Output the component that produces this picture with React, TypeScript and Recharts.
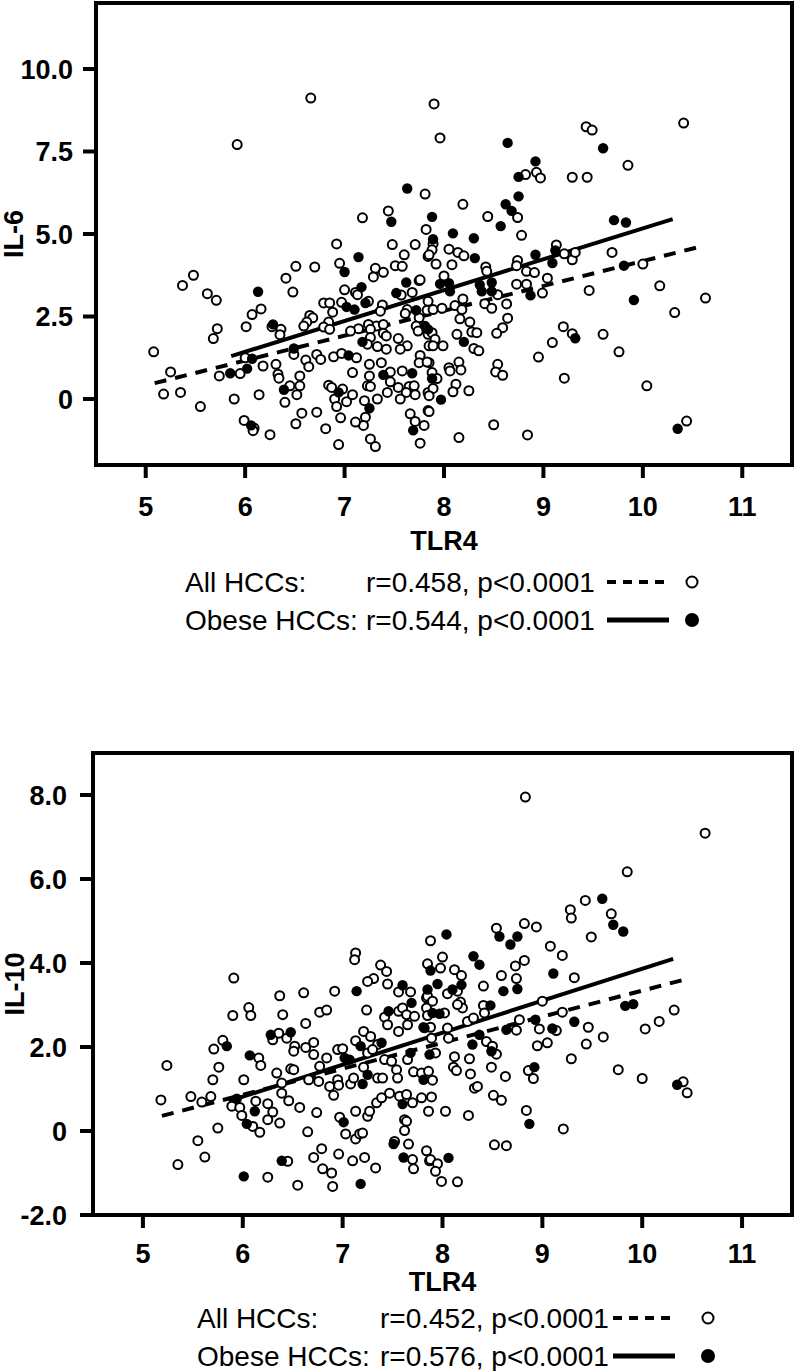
import React from 'react';
import { ScatterChart, Scatter, XAxis, YAxis, ReferenceArea, ReferenceLine } from 'recharts';

const FONT = "'Liberation Sans', Arial, Helvetica, sans-serif";

// x axis (TLR4) shared by both panels
const xTicks = [5, 6, 7, 8, 9, 10, 11];
const xDomain = [4.5, 11.5];

// IL-6 panel
const il6Ticks = [0, 2.5, 5, 7.5, 10];
const il6Domain = [-2, 12];
const il6Stats = ['r=0.458, p<0.0001', 'r=0.544, p<0.0001'];
const il6AllFit = [[5.09, 0.48], [10.61, 4.64]];
const il6ObeseFit = [[5.86, 1.3], [10.3, 5.45]];

const il6OpenPts = [
  [6.66, 9.12], [5.92, 7.71], [7.81, 6.21], [7.44, 5.7], [7.18, 5.49], [7.82, 5.14],
  [7.9, 8.94], [7.96, 7.91], [9.43, 8.25], [9.49, 8.15], [10.41, 8.36], [8.82, 6.8], [8.93, 6.87],
  [8.97, 6.7], [9.29, 6.72], [9.44, 6.72], [9.85, 7.08], [8.19, 5.9], [8.74, 5.5], [8.44, 5.53], [8.78, 4.96],
  [6.92, 4.7], [7.48, 4.68], [7.71, 4.68], [7.6, 4.37], [7.84, 4.32], [6.95, 4.11], [7.51, 4.04], [7.58, 4.02],
  [7.31, 3.96], [7.39, 3.84], [7.29, 3.7], [6.51, 4.02], [6.7, 4.0], [6.41, 3.66], [5.48, 3.75], [5.37, 3.44],
  [6.48, 3.24], [5.62, 3.19], [5.71, 2.99], [7.75, 3.59], [7.0, 3.31], [7.11, 3.23], [7.13, 3.16], [7.57, 3.15],
  [7.68, 3.23], [6.16, 2.73], [6.07, 2.56], [6.01, 2.19], [5.72, 2.13], [5.68, 1.83], [6.79, 2.91], [6.85, 2.91],
  [6.88, 2.63], [6.97, 2.93], [7.24, 2.96], [7.38, 2.85], [7.36, 2.66], [6.65, 2.53], [6.68, 2.46], [6.62, 2.33],
  [6.59, 2.21], [6.84, 2.33], [6.79, 2.18], [6.85, 2.11], [6.27, 2.19], [6.36, 2.11], [6.35, 1.95], [7.63, 2.71],
  [7.61, 2.59], [7.83, 2.69], [7.75, 2.46], [7.72, 2.21], [7.32, 2.21], [7.24, 2.26], [7.39, 2.26], [7.14, 2.13],
  [7.06, 2.06], [7.26, 2.11], [7.39, 1.99], [7.42, 1.91], [7.74, 2.06], [7.84, 1.96], [7.26, 1.86], [7.23, 1.66],
  [7.54, 1.83], [7.63, 1.61], [7.56, 1.51], [7.33, 1.59], [7.42, 1.51], [7.85, 1.61], [6.49, 1.35], [6.72, 1.35],
  [6.76, 1.2], [6.61, 1.18], [6.64, 0.98], [6.89, 1.28], [6.97, 1.38], [7.12, 1.25], [7.76, 1.32], [7.75, 1.1],
  [7.25, 1.05], [7.37, 1.1], [7.85, 1.1], [6.0, 1.25], [6.18, 1.0], [6.31, 1.05], [5.95, 0.77], [5.74, 0.7],
  [5.08, 1.43], [5.25, 0.82], [5.18, 0.15], [5.35, 0.2], [5.55, -0.23], [5.89, 0.0], [6.14, 0.13], [6.33, 0.75],
  [6.34, 0.63], [6.55, 0.7], [6.45, 0.4], [6.55, 0.4], [6.52, 0.13], [6.4, -0.1], [6.84, 0.42], [6.87, 0.35],
  [6.98, 0.3], [6.9, 0.0], [6.92, -0.23], [7.02, -0.08], [7.08, 0.13], [7.08, 0.8], [7.25, 0.7], [7.46, 0.82],
  [7.58, 0.85], [7.46, 0.52], [7.54, 0.35], [7.65, 0.38], [7.7, 0.4], [7.62, 0.2], [7.71, 0.13], [7.23, 0.4],
  [7.26, 0.38], [7.43, 0.2], [7.33, 0.0], [7.56, 0.0], [7.2, -0.05], [7.84, 0.2], [7.84, -0.35], [7.21, -0.55],
  [7.19, -0.8], [7.11, -0.7], [6.96, -0.57], [6.72, -0.4], [6.57, -0.43], [6.51, -0.75], [6.81, -0.9], [5.99, -0.65],
  [6.09, -0.88], [6.08, -0.96], [6.25, -1.08], [6.94, -1.38], [7.26, -1.21], [7.31, -1.44], [7.66, -0.45],
  [7.71, -0.68], [7.8, -0.8], [7.76, -1.34],
  [7.89, 4.7], [7.88, 4.52], [7.85, 4.37], [8.05, 4.54], [8.14, 4.44], [8.2, 4.34], [7.92, 4.09], [8.08, 4.07],
  [8.42, 4.0], [8.43, 3.87], [7.76, 3.61], [8.0, 3.73], [8.54, 3.16], [8.74, 4.2], [8.73, 4.04], [8.83, 3.87],
  [8.91, 3.83], [9.13, 4.67], [9.21, 4.4], [9.29, 4.22], [9.32, 4.44], [9.04, 3.66], [8.73, 3.48], [8.83, 3.48],
  [8.99, 3.21], [9.46, 3.29], [9.69, 4.44], [10.0, 4.09], [10.17, 3.43], [10.63, 3.06], [10.32, 2.62], [7.84, 2.96],
  [7.89, 2.71], [7.98, 2.75], [8.11, 2.83], [8.19, 3.03], [8.18, 2.71], [8.41, 2.89], [8.48, 2.75], [8.63, 2.88],
  [8.64, 2.45], [8.59, 2.16], [8.53, 1.99], [8.16, 2.43], [8.26, 2.33], [8.28, 2.03], [8.33, 2.01], [8.13, 1.96],
  [7.88, 2.01], [7.91, 1.81], [7.89, 1.61], [7.99, 1.61], [8.3, 1.53], [8.35, 1.46], [9.2, 2.19], [9.29, 1.98],
  [9.09, 1.71], [8.95, 1.27], [9.6, 1.96], [9.76, 1.43], [9.21, 0.63], [7.83, 1.12], [8.15, 1.12], [8.05, 0.95],
  [8.06, 0.85], [8.17, 0.88], [7.88, 0.8], [7.93, 0.62], [8.54, 1.05], [8.52, 0.82], [8.59, 0.72], [8.12, 0.45],
  [7.89, 0.32], [8.09, 0.22], [8.25, 0.25], [7.85, 0.1], [7.85, -0.38], [8.5, -0.78], [8.15, -1.17], [8.84, -1.09],
  [10.04, 0.4], [10.44, -0.67],
];

const il6ObesePts = [
  [7.63, 6.38], [7.47, 5.37], [8.64, 7.76], [9.6, 7.6], [8.92, 7.2], [8.75, 6.73], [7.88, 5.52], [8.75, 6.14],
  [8.62, 5.9], [8.68, 5.7], [8.57, 5.24], [8.09, 5.02], [8.3, 4.87], [9.71, 5.42], [9.83, 5.35], [7.89, 4.84],
  [7.14, 4.3], [7.0, 3.85], [6.13, 3.25], [7.62, 3.53], [7.17, 3.39], [7.52, 3.21], [7.02, 2.79], [7.1, 2.71],
  [7.21, 2.91], [6.28, 2.26], [7.72, 2.69], [7.81, 2.21], [7.18, 1.73], [6.49, 1.53], [7.04, 1.32], [6.07, 1.22],
  [6.02, 0.92], [5.85, 0.78], [6.39, 0.28], [6.94, 0.2], [7.39, 0.73], [7.68, 0.78], [7.25, -0.28], [6.06, -0.8],
  [7.69, -0.95],
  [8.31, 4.27], [7.96, 3.49], [8.05, 3.51], [8.06, 3.26], [8.36, 3.46], [8.38, 3.26], [8.48, 3.53], [8.48, 3.26],
  [8.92, 4.37], [9.12, 4.5], [9.09, 4.12], [8.87, 3.14], [9.81, 4.04], [9.91, 3.0], [8.2, 1.73], [7.84, 2.11],
  [9.32, 1.84], [7.88, 0.62], [7.97, -0.02], [10.35, -0.9],
];

// IL-10 panel
const il10Ticks = [-2, 0, 2, 4, 6, 8];
const il10Domain = [-2, 9];
const il10Stats = ['r=0.452, p<0.0001', 'r=0.576, p<0.0001'];
const il10AllFit = [[5.19, 0.36], [10.48, 3.64]];
const il10ObeseFit = [[5.86, 0.71], [10.31, 4.1]];

const il10OpenPts = [
  [5.91, 3.64], [7.13, 4.24], [7.12, 4.08], [7.38, 3.95], [7.44, 3.8], [7.31, 3.63], [7.25, 3.56], [7.45, 3.5],
  [7.88, 4.53], [7.85, 3.98],
  [8.83, 7.95], [10.63, 7.09], [9.85, 6.17], [9.43, 5.49], [9.28, 5.27], [9.29, 5.07], [9.69, 5.17], [9.49, 4.62],
  [8.82, 4.94], [8.94, 4.86], [8.54, 4.83], [9.08, 4.4], [9.2, 4.18], [9.32, 3.65], [8.82, 4.06], [8.73, 3.93],
  [8.59, 3.7], [8.74, 3.63], [8.0, 4.14], [7.98, 3.88], [8.12, 3.84], [8.19, 3.7], [8.41, 3.45],
  [6.37, 3.22], [6.61, 3.29], [6.92, 3.33], [7.56, 3.31], [7.68, 3.31], [7.84, 3.17], [6.06, 2.94], [6.08, 2.75],
  [5.9, 2.75], [6.4, 2.77], [6.77, 2.83], [6.84, 2.88], [7.24, 2.88], [7.42, 2.71], [7.45, 2.53], [7.56, 2.85],
  [7.6, 2.93], [7.64, 2.77], [7.72, 2.73], [7.65, 2.53], [7.56, 2.37], [7.84, 2.93], [7.85, 2.75], [6.63, 2.56],
  [6.36, 2.33], [6.3, 2.17], [6.44, 2.21], [6.52, 2.02], [6.51, 1.9], [6.63, 1.99], [6.71, 2.11], [6.71, 1.82],
  [6.77, 1.54], [6.84, 1.74], [6.95, 1.94], [7.0, 1.96], [7.13, 2.15], [7.21, 2.37], [7.28, 2.25], [7.35, 2.06],
  [7.25, 1.86], [7.3, 1.94], [7.42, 1.7], [7.49, 1.66], [7.21, 1.52], [7.35, 1.26], [7.4, 1.26], [7.54, 1.46],
  [7.55, 1.26], [7.65, 1.7], [7.71, 1.41], [7.79, 1.38], [7.86, 1.42], [6.16, 1.74], [6.18, 1.56], [6.48, 1.48],
  [6.51, 1.46], [6.34, 1.38], [6.66, 1.22], [6.76, 1.18], [6.87, 1.06], [6.95, 1.22], [6.96, 1.09], [7.08, 1.12],
  [7.11, 1.26], [6.91, 0.85], [6.39, 1.14], [6.39, 0.9], [6.46, 0.72], [6.01, 1.22], [5.71, 1.95], [5.8, 2.16],
  [5.76, 1.52], [5.7, 1.22], [5.24, 1.56], [5.18, 0.74], [5.48, 0.82], [5.59, 0.69], [5.68, 0.82], [5.89, 0.59],
  [5.97, 0.56], [5.99, 0.37], [6.13, 0.71], [6.25, 0.65], [6.3, 0.45], [6.25, 0.27], [6.37, 0.19], [6.1, 0.11],
  [6.17, -0.03], [5.75, 0.07], [5.55, -0.23], [5.62, -0.62], [5.35, -0.8], [6.25, -1.1], [6.45, -0.72],
  [6.55, -1.29], [6.57, 0.56], [6.74, 0.44], [6.65, -0.02], [6.97, 0.33], [7.03, -0.07], [7.13, -0.19],
  [7.17, -0.07], [7.2, -0.05], [7.13, 0.47], [7.25, 0.35], [7.27, 0.47], [7.34, 0.67], [7.39, 0.79], [7.47, 0.9],
  [7.57, 0.83], [7.64, 0.87], [7.7, 0.67], [7.79, 0.79], [7.62, 0.27], [7.64, 0.23], [7.62, 0.01], [7.86, 0.47],
  [6.79, -0.42], [6.71, -0.63], [6.96, -0.55], [7.1, -0.71], [7.22, -0.63], [7.33, -0.88], [6.8, -0.9],
  [6.89, -1.0], [6.9, -1.32], [7.52, -0.25], [7.66, -0.31], [7.7, -0.68], [7.71, -0.9], [7.84, -0.47], [7.87, -0.71],
  [7.85, 3.21], [7.9, 3.09], [8.05, 3.27], [8.15, 3.33], [8.18, 3.07], [8.2, 2.93], [8.15, 3.01], [8.41, 2.99],
  [8.42, 2.81], [9.0, 3.09], [8.02, 2.81], [8.25, 2.61], [8.31, 2.69], [8.05, 2.45], [7.88, 2.47], [7.89, 2.21],
  [8.06, 2.21], [8.44, 2.13], [8.5, 2.02], [8.54, 1.83], [7.93, 1.86], [8.12, 1.77], [8.27, 1.72], [8.49, 1.52],
  [8.28, 1.36], [8.11, 1.52], [8.14, 1.44], [7.9, 1.21], [7.89, 0.81], [8.32, 1.02], [8.35, 1.06], [8.51, 0.85],
  [8.59, 0.73], [8.63, 1.3], [8.03, 0.47], [8.26, 0.37], [8.77, 2.65], [8.74, 2.4], [8.97, 2.43], [9.14, 2.39],
  [9.2, 2.83], [9.46, 2.47], [8.95, 2.03], [9.05, 2.1], [9.44, 2.07], [9.61, 2.24], [9.29, 1.72], [10.03, 2.43],
  [10.17, 2.61], [10.32, 2.88], [8.86, 1.44], [8.91, 1.25], [9.76, 1.46], [10.0, 1.25], [10.41, 1.17],
  [10.45, 0.91], [8.84, 0.49], [9.21, 0.05], [8.52, -0.33], [8.64, -0.35], [7.88, -0.68], [7.95, -0.78],
  [7.93, -0.96], [7.99, -1.2], [8.15, -1.21],
];

const il10ObesePts = [
  [7.6, 3.47], [7.88, 3.82],
  [9.6, 5.53], [9.71, 4.91], [9.81, 4.75], [8.57, 4.63], [8.75, 4.63], [8.68, 4.44], [9.11, 3.75], [8.31, 4.16],
  [8.37, 3.96], [8.04, 4.68], [7.95, 3.5], [8.19, 3.48],
  [7.14, 3.33], [7.85, 3.37], [7.46, 2.85], [7.69, 3.05], [7.81, 2.47], [6.28, 2.29], [6.48, 2.35], [7.02, 1.74],
  [7.07, 1.7], [7.18, 2.02], [7.39, 2.1], [7.25, 1.34], [7.68, 1.86], [7.81, 1.22], [7.87, 1.82], [6.07, 1.8],
  [7.2, 1.12], [5.84, 2.02], [5.94, 0.77], [6.12, 0.47], [6.04, 0.17], [6.01, -1.08], [6.39, -0.71], [7.01, 0.21],
  [7.6, 0.64], [7.18, -1.26], [7.51, -0.31], [7.61, -0.63],
  [8.1, 3.37], [8.61, 3.33], [8.75, 3.38], [8.48, 2.99], [7.9, 2.81], [7.97, 2.79], [7.82, 2.45], [8.37, 2.29],
  [8.49, 1.9], [8.3, 2.06], [8.64, 2.41], [8.93, 2.65], [9.1, 2.44], [9.32, 2.6], [9.83, 2.98], [9.91, 3.02],
  [8.92, 1.52], [10.35, 1.1], [8.87, 0.17], [8.06, -0.64],
];

const legendGroups = ['All HCCs:', 'Obese HCCs:'];

const toPts = (arr: number[][]) => arr.map(([x, y]) => ({ x, y }));

function OpenDot(props: any) {
  const { cx, cy } = props;
  if (cx == null || cy == null) return null;
  return <circle cx={cx} cy={cy} r={4.5} fill="#fff" stroke="#000" strokeWidth={2} />;
}

function FilledDot(props: any) {
  const { cx, cy } = props;
  if (cx == null || cy == null) return null;
  return <circle cx={cx} cy={cy} r={5.2} fill="#000" />;
}

const tickStyle = { fontSize: 27, fontWeight: 700, fill: '#000', fontFamily: FONT };
const titleStyle = { fontSize: 27, fontWeight: 700, fill: '#000', fontFamily: FONT };

interface PanelProps {
  top: number;
  height: number;
  yAxisWidth: number;
  xAxisHeight: number;
  xTickMargin: number;
  yTickMargin: number;
  yLabel: string;
  yLabelOffset: number;
  yDomain: number[];
  yTicks: number[];
  yFormat: (v: number) => string;
  openPts: number[][];
  obesePts: number[][];
  allFit: number[][];
  obeseFit: number[][];
}

function Panel(p: PanelProps) {
  return (
    <div style={{ position: 'absolute', left: 0, top: p.top }}>
      <ScatterChart width={795} height={p.height + 14} margin={{ top: 3, right: 3, bottom: 14, left: 0 }}>
        <XAxis
          type="number"
          dataKey="x"
          domain={xDomain}
          ticks={xTicks}
          allowDataOverflow
          axisLine={false}
          tickLine={{ stroke: '#000', strokeWidth: 4 }}
          tickSize={13}
          tickMargin={p.xTickMargin}
          height={p.xAxisHeight}
          tick={tickStyle}
          label={{ value: 'TLR4', position: 'insideBottom', offset: 0, style: titleStyle }}
        />
        <YAxis
          type="number"
          dataKey="y"
          domain={p.yDomain}
          ticks={p.yTicks}
          allowDataOverflow
          axisLine={false}
          tickLine={{ stroke: '#000', strokeWidth: 4 }}
          tickSize={13}
          tickMargin={p.yTickMargin}
          width={p.yAxisWidth}
          tick={tickStyle}
          tickFormatter={p.yFormat}
          label={{
            value: p.yLabel,
            angle: -90,
            position: 'insideLeft',
            offset: p.yLabelOffset,
            style: { ...titleStyle, textAnchor: 'middle' },
          }}
        />
        <ReferenceArea
          x1={xDomain[0]}
          x2={xDomain[1]}
          y1={p.yDomain[0]}
          y2={p.yDomain[1]}
          fill="none"
          fillOpacity={0}
          stroke="#000"
          strokeWidth={4}
        />
        <Scatter data={toPts(p.openPts)} shape={OpenDot} isAnimationActive={false} />
        <Scatter data={toPts(p.obesePts)} shape={FilledDot} isAnimationActive={false} />
        <ReferenceLine segment={toPts(p.allFit)} stroke="#000" strokeWidth={4} strokeDasharray="12 9" />
        <ReferenceLine segment={toPts(p.obeseFit)} stroke="#000" strokeWidth={4} />
      </ScatterChart>
    </div>
  );
}

function LegendBlock({ cy, groupX, statX, lineX, circleX, stats }: any) {
  const rowGap = 38;
  return (
    <g fontFamily={FONT} fontSize={28} fill="#000">
      {legendGroups.map((g, i) => {
        const y = cy + i * rowGap;
        return (
          <g key={g}>
            <text x={groupX} y={y} dy="0.36em">{g}</text>
            <text x={statX} y={y} dy="0.36em">{stats[i]}</text>
            {i === 0 ? (
              <line x1={lineX} x2={lineX + 60} y1={y} y2={y} stroke="#000" strokeWidth={4} strokeDasharray="9 7" />
            ) : (
              <line x1={lineX} x2={lineX + 62} y1={y} y2={y} stroke="#000" strokeWidth={5} />
            )}
            {i === 0 ? (
              <circle cx={circleX} cy={y} r={5.5} fill="#fff" stroke="#000" strokeWidth={2} />
            ) : (
              <circle cx={circleX} cy={y} r={7} fill="#000" />
            )}
          </g>
        );
      })}
    </g>
  );
}

const fmtTick = (v: number) => (v === 0 ? '0' : v.toFixed(1));

export default function App() {
  return (
    <div style={{ position: 'absolute', left: 0, top: 0, width: 795, height: 1371, background: '#fff', overflow: 'hidden' }}>
      <Panel
        top={0}
        height={550}
        yAxisWidth={96}
        xAxisHeight={85}
        xTickMargin={19}
        yTickMargin={10}
        yLabel="IL-6"
        yLabelOffset={13}
        yDomain={il6Domain}
        yTicks={il6Ticks}
        yFormat={fmtTick}
        openPts={il6OpenPts}
        obesePts={il6ObesePts}
        allFit={il6AllFit}
        obeseFit={il6ObeseFit}
      />
      <Panel
        top={750}
        height={541}
        yAxisWidth={93}
        xAxisHeight={76}
        xTickMargin={16}
        yTickMargin={13}
        yLabel="IL-10"
        yLabelOffset={14}
        yDomain={il10Domain}
        yTicks={il10Ticks}
        yFormat={fmtTick}
        openPts={il10OpenPts}
        obesePts={il10ObesePts}
        allFit={il10AllFit}
        obeseFit={il10ObeseFit}
      />
      <svg width={795} height={1371} style={{ position: 'absolute', left: 0, top: 0, pointerEvents: 'none' }}>
        <LegendBlock cy={582} groupX={185} statX={366} lineX={607} circleX={692} stats={il6Stats} />
        <LegendBlock cy={1318} groupX={197} statX={380} lineX={613} circleX={708} stats={il10Stats} />
      </svg>
    </div>
  );
}
